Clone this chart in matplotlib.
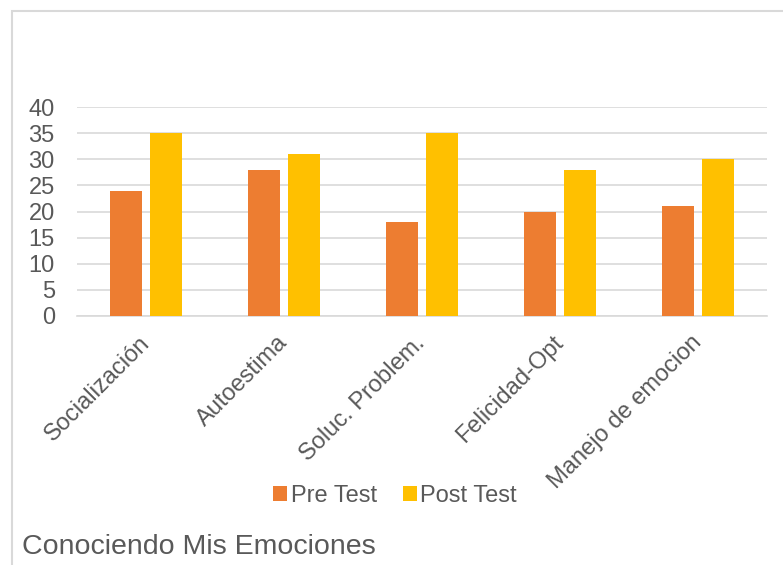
import numpy as np
import matplotlib
matplotlib.use("Agg")
import matplotlib.pyplot as plt
from matplotlib.patches import Rectangle

# datos
categorias = ["Socialización", "Autoestima", "Soluc. Problem.", "Felicidad-Opt", "Manejo de emocion"]
pre_test = [24, 28, 18, 20, 21]
post_test = [35, 31, 35, 28, 30]

plt.rcParams['font.family'] = ['Liberation Sans', 'DejaVu Sans']
gris = '#595959'
linea = '#D9D9D9'

fig = plt.figure(figsize=(7.83, 5.65), dpi=100)
ax = fig.add_axes([77/783, 249/565, 690/783, 209/565])

x = np.arange(len(categorias))
w = 0.225
ax.bar(x - 0.145, pre_test, w, color='#ED7D31', label='Pre Test', zorder=3)
ax.bar(x + 0.145, post_test, w, color='#FFC000', label='Post Test', zorder=3)

ax.set_xlim(-0.5, len(categorias) - 0.5)
ax.set_ylim(0, 40)
ax.set_yticks(np.arange(0, 41, 5))
ax.yaxis.grid(True, color=linea, linewidth=1.2, zorder=0)
for s in ['top', 'right', 'left']:
    ax.spines[s].set_visible(False)
ax.spines['bottom'].set_color(linea)
ax.spines['bottom'].set_linewidth(1.2)
ax.tick_params(axis='both', length=0, labelsize=17, colors=gris)
ax.tick_params(axis='y', pad=16)
ax.set_xticks(x)
ax.set_xticklabels(categorias, rotation=45, ha='right', va='center',
                   rotation_mode='anchor')
ax.tick_params(axis='x', pad=17)

leg = fig.legend(loc='center', bbox_to_anchor=(395/783, 1 - 496/565), ncol=2,
                 frameon=False, fontsize=17, handlelength=0.6, handleheight=0.6,
                 handletextpad=0.15, columnspacing=1.1)
for t in leg.get_texts():
    t.set_color(gris)

fig.text(22/783, 1 - 547/565, "Conociendo Mis Emociones", fontsize=20.5,
         color=gris, va='center', ha='left')

borde = Rectangle((12/783, -0.1), 1.0, 1 - 11/565 + 0.1, transform=fig.transFigure,
                  fill=False, edgecolor=linea, linewidth=1.5)
fig.patches.append(borde)

fig.savefig("out.png", dpi=100)
